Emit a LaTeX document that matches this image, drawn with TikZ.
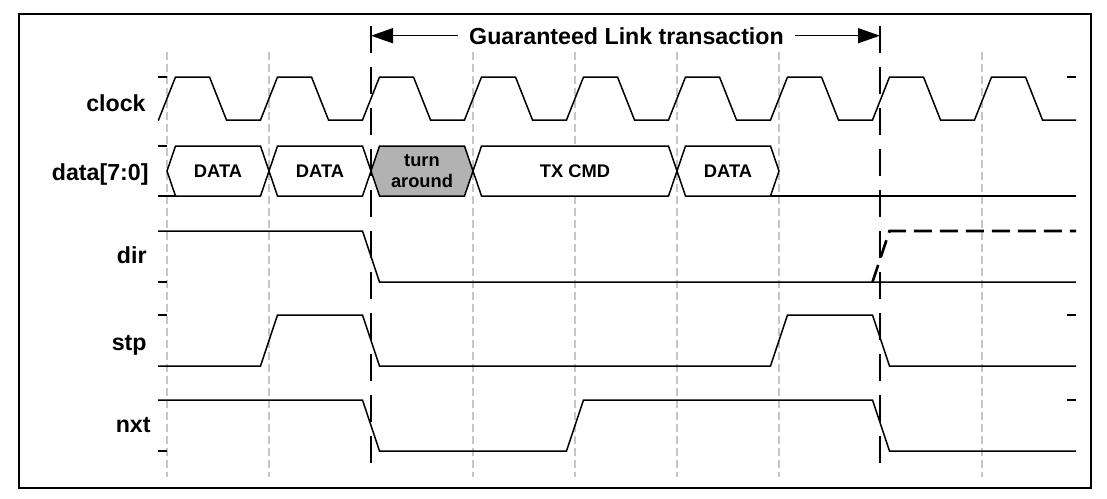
\documentclass[tikz,border=0pt]{standalone}
\usepackage{fontspec}
\setmainfont{Liberation Sans}
\usetikzlibrary{arrows.meta}

\begin{document}
\begin{tikzpicture}[x=0.5pt, y=-0.5pt,
        wave/.style={line width=0.75pt},
        bus/.style={wave, fill=white},
        gridline/.style={gray!45, line width=0.6pt, dash pattern=on 4pt off 2pt},
        cutline/.style={line width=1.3pt, dash pattern=on 13.5pt off 7pt},
        sig/.style={font=\fontsize{11.6}{14}\selectfont\bfseries, anchor=base east, inner sep=0pt},
        word/.style={font=\fontsize{9.15}{10.6}\selectfont\bfseries, align=center}]
    \useasboundingbox (0,0) rectangle (1107,498);
    \draw[line width=1.3pt] (19,14) rectangle (1091,488);

    % clock edges
    \draw[gridline] (167,52) -- (167,477) (269,52) -- (269,477)
        (473,52) -- (473,477) (575,52) -- (575,477) (677,52) -- (677,477)
        (779,52) -- (779,477) (982,52) -- (982,477);

    % title
    \node[font=\fontsize{11.6}{14}\selectfont\bfseries, anchor=base, inner xsep=5.3pt] (gl) at (626.5,44) {Guaranteed Link transaction};
    \coordinate (gll) at (371,36);
    \coordinate (glr) at (880,36);
    \draw[wave, -{Triangle[length=11pt, width=7.5pt]}] (gl.west) -- (gll |- gl.west);
    \draw[wave, -{Triangle[length=11pt, width=7.5pt]}] (gl.east) -- (glr |- gl.east);

    % signal names
    \node[sig] (clk) at (146,111) {clock};
    \node[sig] (dat) at (149,180) {data[7:0]};
    \node[sig] (dir) at (147,263) {dir};
    \node[sig] (stp) at (147,350) {stp};
    \node[sig] (nxt) at (151,432) {nxt};

    % level ticks
    \draw[wave] (158,77) -- (167,77) (158,146) -- (167,146) (158,282) -- (167,282)
        (158,315) -- (167,315) (158,451) -- (167,451)
        (1067,77) -- (1076,77) (1067,315) -- (1076,315) (1067,400) -- (1076,400);

    % clock
    \draw[wave] (158,120) -- (158.5,120) -- (175.5,77) -- (209.5,77) -- (226.5,120)
        -- (260.5,120) -- (277.5,77) -- (311.5,77) -- (328.5,120)
        -- (362.5,120) -- (379.5,77) -- (413.5,77) -- (430.5,120)
        -- (464.5,120) -- (481.5,77) -- (515.5,77) -- (532.5,120)
        -- (566.5,120) -- (583.5,77) -- (617.5,77) -- (634.5,120)
        -- (668.5,120) -- (685.5,77) -- (719.5,77) -- (736.5,120)
        -- (770.5,120) -- (787.5,77) -- (821.5,77) -- (838.5,120)
        -- (872.5,120) -- (889.5,77) -- (923.5,77) -- (940.5,120)
        -- (974.5,120) -- (991.5,77) -- (1025.5,77) -- (1042.5,120) -- (1076,120);

    % data bus
    \draw[wave] (158,196) -- (175.5,196);
    \draw[wave] (770.5,196) -- (1076,196);
    \draw[bus] (167,171) -- (175.5,146) -- (260.5,146) -- (269,171) -- (260.5,196) -- (175.5,196) -- cycle;
    \draw[bus] (269,171) -- (277.5,146) -- (362.5,146) -- (371,171) -- (362.5,196) -- (277.5,196) -- cycle;
    \draw[bus, fill=black!30] (371,171) -- (379.5,146) -- (464.5,146) -- (473,171) -- (464.5,196) -- (379.5,196) -- cycle;
    \draw[bus] (473,171) -- (481.5,146) -- (668.5,146) -- (677,171) -- (668.5,196) -- (481.5,196) -- cycle;
    \draw[bus] (677,171) -- (685.5,146) -- (770.5,146) -- (779,171) -- (770.5,196) -- (685.5,196) -- cycle;
    \node[word] (d1) at (218,171) {DATA};
    \node[word] (d2) at (320,171) {DATA};
    \node[word] (ta) at (422,171) {turn\\around};
    \node[word] (tx) at (575,171) {TX CMD};
    \node[word] (d3) at (728,171) {DATA};

    % dir
    \draw[wave] (158,231) -- (362.5,231) -- (379.5,282) -- (1076,282);
    \draw[wave, line width=1.3pt, dash pattern=on 9pt off 4pt] (872.5,282) -- (889.5,231) -- (1076,231);

    % stp
    \draw[wave] (158,366) -- (260.5,366) -- (277.5,315) -- (362.5,315) -- (379.5,366)
        -- (770.5,366) -- (787.5,315) -- (872.5,315) -- (889.5,366) -- (1076,366);

    % nxt
    \draw[wave] (158,400) -- (362.5,400) -- (379.5,451) -- (566.5,451) -- (583.5,400)
        -- (872.5,400) -- (889.5,451) -- (1076,451);

    % transaction bounds
    \draw[cutline] (371,26) -- (371,477);
    \draw[cutline] (880,26) -- (880,477);
\end{tikzpicture}
\end{document}
